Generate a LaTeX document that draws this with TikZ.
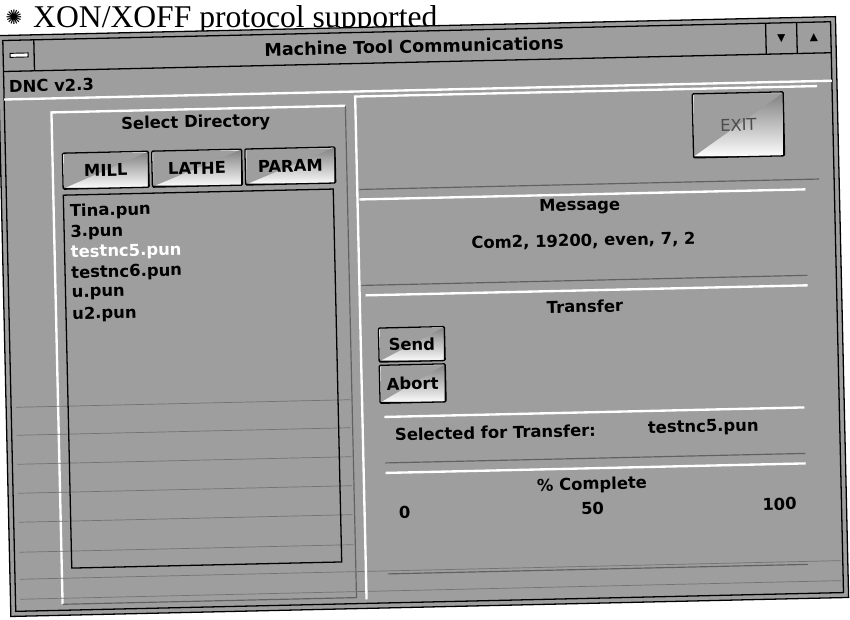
\documentclass[tikz,border=0pt]{standalone}
\usepackage{fontspec}
\setmainfont{Liberation Serif}
\newfontfamily\uifont{DejaVu Sans}
\usetikzlibrary{positioning}
\definecolor{scan}{gray}{0.62}
\definecolor{shade}{gray}{0.38}

\begin{document}
\begin{tikzpicture}[
    x=0.03cm, y=-0.03cm,
    ui/.style={font=\uifont\bfseries\fontsize{14}{16}\selectfont, inner sep=0pt},
    frame/.style={draw=black, line width=1.1pt},
    hilite/.style={draw=white, line width=2pt},
    lowlite/.style={draw=shade, line width=1pt},
    winbtn/.style={draw=black, line width=1.1pt, rounded corners=1pt, fill=scan, inner sep=0pt,
      font=\uifont\bfseries\fontsize{14}{16}\selectfont,
      path picture={
        \draw[white, line width=2.4pt] (path picture bounding box.south west) -- (path picture bounding box.north west) -- (path picture bounding box.north east);
        \draw[shade, line width=2.4pt] (path picture bounding box.south west) -- (path picture bounding box.south east) -- (path picture bounding box.north east);
      }}
  ]
  \useasboundingbox[fill=white] (0,0) rectangle (850,619);

  % caption above the screen shot
  \node[font=\uifont\fontsize{17}{17}\selectfont, inner sep=0pt] (bullet) at (14,17) {✺};
  \node[font=\fontsize{27}{30}\selectfont, anchor=base west, inner sep=0pt] (caption) at (33,28) {XON/XOFF protocol supported};

  \begin{scope}[rotate around={1.3:(425,310)}, transform shape]
    % window frame and title bar
    \draw[frame, fill=scan] (4,26) rectangle (842,607);
    \draw[frame] (9,31) rectangle (837,602);
    \draw[frame] (9,62) -- (837,62);
    \draw[frame] (40,31) -- (40,62);
    \draw[draw=black, fill=white, line width=0.8pt] (16,44) rectangle (34,48);
    \draw[frame] (772,31) -- (772,62);
    \draw[frame] (803,31) -- (803,62);
    \node[font=\uifont\fontsize{9}{9}\selectfont, inner sep=0pt] (minbtn) at (787.5,46.5) {▼};
    \node[font=\uifont\fontsize{9}{9}\selectfont, inner sep=0pt] (maxbtn) at (820,46.5) {▲};
    \node[ui, font=\uifont\bfseries\fontsize{15}{17}\selectfont] (title) at (420,46) {Machine Tool Communications};

    % menu bar
    \node[ui, anchor=west] (menu) at (14,77) {DNC v2.3};
    \draw[hilite] (9,90) -- (837,90);

    % directory panel
    \draw[hilite] (56,596) -- (56,104) -- (350,104);
    \draw[lowlite] (56,596) -- (350,596) -- (350,104);
    \foreach \ly in {398,426,455,484,513,543}
      \draw[black!55, line width=0.6pt] (14,\ly) -- (348,\ly);
    \foreach \ly in {570,590}
      \draw[black!55, line width=0.6pt] (14,\ly) -- (835,\ly);
    \node[ui] (seldir) at (200,118) {Select Directory};
    \node[winbtn, minimum width=2.58cm, minimum height=1.08cm] (mill) at (109,163) {MILL};
    \node[winbtn, minimum width=2.7cm, minimum height=1.08cm, right=0.06cm of mill] (lathe) {LATHE};
    \node[winbtn, minimum width=2.7cm, minimum height=1.08cm, right=0.06cm of lathe] (param) {PARAM};
    \node[frame, minimum width=8.1cm, minimum height=11.19cm, inner sep=0pt] (listbox) at (201,373.5) {};
    \foreach \fname/\fcol [count=\i] in {Tina.pun/black, 3.pun/black, testnc5.pun/white, testnc6.pun/black, u.pun/black, u2.pun/black}
      \node[ui, anchor=west, text=\fcol] (item\i) at (72,{183.4+20.6*\i}) {\fname};

    % exit area
    \draw[hilite] (360,598) -- (360,95) -- (822,95);
    \draw[lowlite] (362,188) -- (822,188);
    \node[winbtn, minimum width=2.73cm, minimum height=1.92cm, font=\uifont\fontsize{14}{16}\selectfont, text=black!70] (exit) at (742.5,132) {EXIT};

    % message panel
    \draw[hilite] (362,198) -- (808,198);
    \draw[lowlite] (362,284) -- (808,284);
    \node[ui] (msglabel) at (582,210) {Message};
    \node[ui] (msgtext) at (585,245) {Com2, 19200, even, 7, 2};

    % transfer panel
    \draw[hilite] (366,294) -- (808,294);
    \node[ui] (xferlabel) at (585,310) {Transfer};
    \node[winbtn, minimum width=1.98cm, minimum height=1.02cm] (send) at (411,344) {Send};
    \node[winbtn, minimum width=1.98cm, minimum height=1.14cm, below=0.06cm of send] (abort) {Abort};

    \draw[hilite] (382,416) -- (802,416);
    \draw[lowlite] (382,462) -- (802,462);
    \node[ui, anchor=west] (selected) at (392,434) {Selected for Transfer:};
    \node[ui, anchor=west] (selfile) at (645,434) {testnc5.pun};

    \draw[hilite] (382,472) -- (802,472);
    \draw[lowlite] (382,573) -- (802,573);
    \node[ui] (pctlabel) at (588,489) {\% Complete};
    \node[ui] (pct0) at (400,512) {0};
    \node[ui] (pct50) at (588,512) {50};
    \node[ui] (pct100) at (775,512) {100};
  \end{scope}
\end{tikzpicture}
\end{document}
